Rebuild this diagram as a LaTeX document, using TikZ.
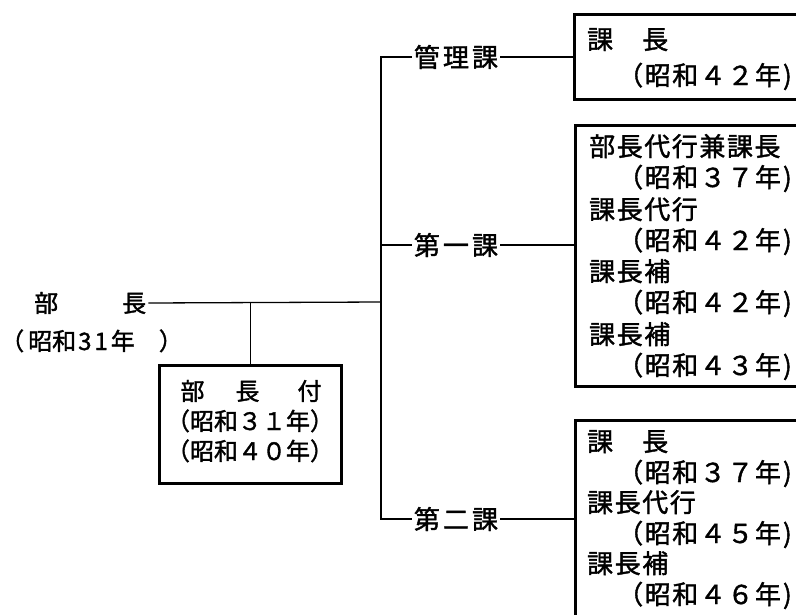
\documentclass[tikz,border=0pt]{standalone}
\usepackage{fontspec}
\newfontfamily\jpA[LetterSpace=6,FakeBold=1.5]{Noto Sans CJK JP}
\newfontfamily\jpS[LetterSpace=12,FakeBold=1.5]{Noto Sans CJK JP}
\newfontfamily\jpC[FakeBold=1.5]{Noto Sans CJK JP}
\begin{document}
\begin{tikzpicture}[x=1pt,y=-1pt,
  wide/.style={font=\jpA\fontsize{26pt}{30pt}\selectfont, inner sep=0pt, anchor=base west},
  small/.style={font=\jpC\fontsize{24pt}{28pt}\selectfont, inner sep=0pt},
  sect/.style={font=\jpS\fontsize{26pt}{30pt}\selectfont, inner xsep=2pt, inner ysep=0pt},
  box/.style={draw, line width=2.6pt, anchor=north west, inner sep=0pt},
  conn/.style={line width=1.3pt}
]
\useasboundingbox (0,0) rectangle (796,614);
\clip (0,0) rectangle (796,614);

% left: department head
\node[small, anchor=west, inner xsep=2pt] (n0) at (32,303) {部\hspace{64pt}長};
\node[small, anchor=base west] (n0y) at (0,350)
  {（\hspace{4pt}昭和\hspace{2pt}3\hspace{3pt}1\hspace{3pt}年\hspace{24pt}）};

% attached box
\node[box, minimum width=182pt, minimum height=118pt] (bf) at (158,364) {};
\node[small, anchor=base] (bfa) at (251,400) {部\hspace{31pt}長\hspace{38pt}付};
\node[small, anchor=base] (bfb) at (250,430) {（昭和３１年）};
\node[small, anchor=base] (bfc) at (250,460) {（昭和４０年）};

% section labels
\node[sect] (k)  at (456,57)  {管理課};
\node[sect] (d1) at (456,245) {第一課};
\node[sect] (d2) at (456,519) {第二課};

% box 1
\node[box, minimum width=260pt, minimum height=85pt] (b1) at (573,13) {};
\node[wide] (b1a) at (587,49) {課　長};
\node[wide] (b1b) at (617,85) {（昭和４２年\hspace{2pt})};

% box 2
\node[box, minimum width=260pt, minimum height=261pt] (b2) at (574,124) {};
\node[wide] (b2a) at (589,156) {部長代行兼課長};
\node[wide] (b2b) at (617,187) {（昭和３７年\hspace{2pt})};
\node[wide] (b2c) at (589,219) {課長代行};
\node[wide] (b2d) at (617,250) {（昭和４２年\hspace{2pt})};
\node[wide] (b2e) at (589,281) {課長補};
\node[wide] (b2f) at (617,312) {（昭和４２年\hspace{2pt})};
\node[wide] (b2g) at (589,344) {課長補};
\node[wide] (b2h) at (617,375) {（昭和４３年\hspace{2pt})};

% box 3
\node[box, minimum width=260pt, minimum height=220pt] (b3) at (574,419) {};
\node[wide] (b3a) at (587,451) {課　長};
\node[wide] (b3b) at (617,482) {（昭和３７年\hspace{2pt})};
\node[wide] (b3c) at (587,512) {課長代行};
\node[wide] (b3d) at (617,543) {（昭和４５年\hspace{2pt})};
\node[wide] (b3e) at (587,573) {課長補};
\node[wide] (b3f) at (617,604) {（昭和４６年\hspace{2pt})};

% connectors
\coordinate (sj) at (381,302);
\draw[conn] (n0.east) -- (sj);
\draw[conn] (bf.north) -- (bf.north |- sj);
\draw[conn] (k.west) -- (k.west -| sj) -- (d2.west -| sj) -- (d2.west);
\draw[conn] (d1.west) -- (d1.west -| sj);
\draw[conn] (k.east) -- (k.east -| b1.west);
\draw[conn] (d1.east) -- (d1.east -| b2.west);
\draw[conn] (d2.east) -- (d2.east -| b3.west);
\end{tikzpicture}
\end{document}
